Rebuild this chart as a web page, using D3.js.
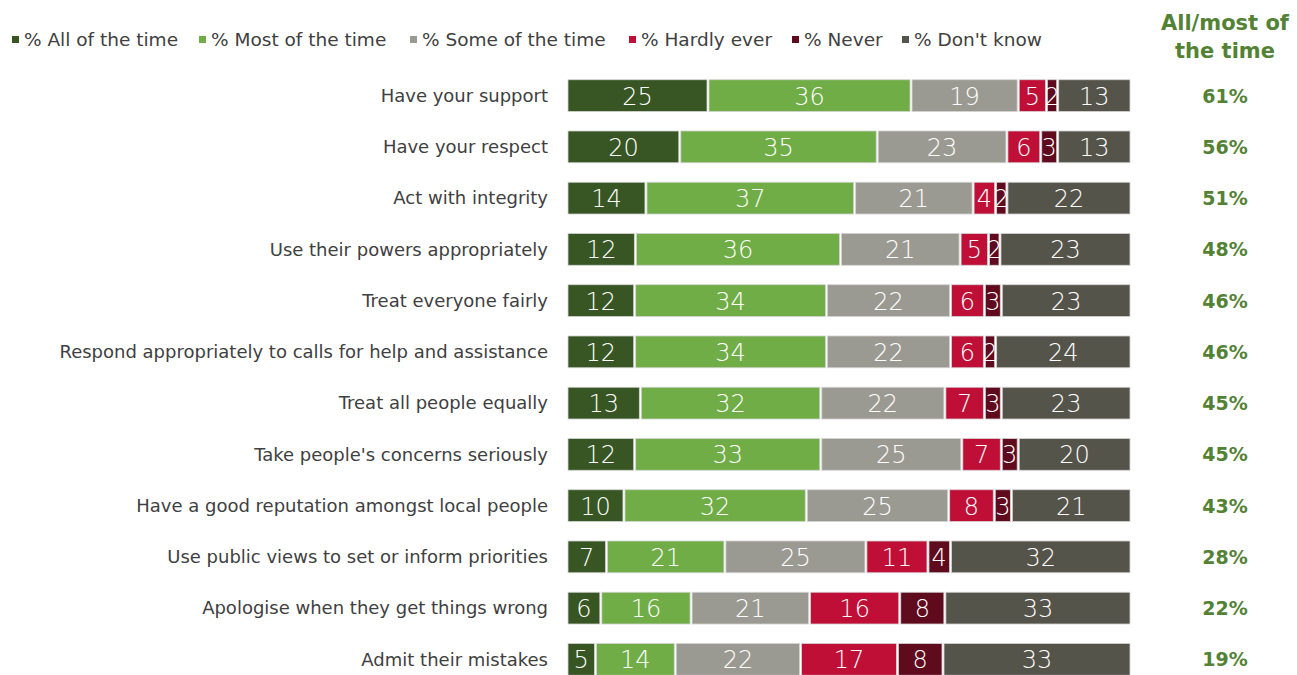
<!DOCTYPE html>
<html>
<head>
<meta charset="utf-8">
<script src="https://cdn.jsdelivr.net/npm/d3@7"></script>
<style>
  body { margin: 0; background: #fff; }
  svg { display: block; }
  text { font-family: "DejaVu Sans", sans-serif; }
</style>
</head>
<body>
<svg id="chart" width="1297" height="675"></svg>
<script>
const statements = [
  "Have your support",
  "Have your respect",
  "Act with integrity",
  "Use their powers appropriately",
  "Treat everyone fairly",
  "Respond appropriately to calls for help and assistance",
  "Treat all people equally",
  "Take people's concerns seriously",
  "Have a good reputation amongst local people",
  "Use public views to set or inform priorities",
  "Apologise when they get things wrong",
  "Admit their mistakes"
];
const seriesNames = ["% All of the time", "% Most of the time", "% Some of the time", "% Hardly ever", "% Never", "% Don't know"];
const allTime   = [25, 20, 14, 12, 12, 12, 13, 12, 10, 7, 6, 5];
const mostTime  = [36, 35, 37, 36, 34, 34, 32, 33, 32, 21, 16, 14];
const someTime  = [19, 23, 21, 21, 22, 22, 22, 25, 25, 25, 21, 22];
const hardly    = [5, 6, 4, 5, 6, 6, 7, 7, 8, 11, 16, 17];
const never     = [2, 3, 2, 2, 3, 2, 3, 3, 3, 4, 8, 8];
const dontKnow  = [13, 13, 22, 23, 23, 24, 23, 20, 21, 32, 33, 33];
const allMost   = ["61%", "56%", "51%", "48%", "46%", "46%", "45%", "45%", "43%", "28%", "22%", "19%"];
const colors = ["#375623", "#70ad47", "#9b9a92", "#c00f37", "#5f0a1d", "#55544b"];

const series = [allTime, mostTime, someTime, hardly, never, dontKnow];
const svg = d3.select("#chart");

// rounded values don't always add to 100, so bars are stretched to full width
const x = d3.scaleLinear().domain([0, 1]).range([567, 1131]);
const y = d3.scaleBand().domain(statements).range([70, 685]).paddingInner(0.38).paddingOuter(0.19);

const rows = statements.map((s, i) => {
  const r = { name: s };
  seriesNames.forEach((k, j) => r[k] = series[j][i]);
  return r;
});
const stacked = d3.stack().keys(seriesNames).offset(d3.stackOffsetExpand)(rows);

const layers = svg.append("g").selectAll("g")
  .data(stacked)
  .join("g")
  .attr("fill", (d, i) => colors[i]);

layers.selectAll("rect")
  .data(d => d)
  .join("rect")
  .attr("x", d => x(d[0]) + 1)
  .attr("y", d => y(d.data.name))
  .attr("width", d => Math.max(0, x(d[1]) - x(d[0]) - 2))
  .attr("height", y.bandwidth())
  .attr("stroke", "#d4d4d4")
  .attr("stroke-width", 0.8);

layers.selectAll("text")
  .data(d => d.map(p => Object.assign(p, { key: d.key })))
  .join("text")
  .attr("x", d => (x(d[0]) + x(d[1])) / 2)
  .attr("y", d => y(d.data.name) + y.bandwidth() / 2)
  .attr("dy", "0.37em")
  .attr("text-anchor", "middle")
  .attr("fill", "#fff")
  .attr("font-size", 24)
  .attr("font-weight", 300)
  .text(d => d.data[d.key]);

// category labels
svg.append("g").selectAll("text")
  .data(statements)
  .join("text")
  .attr("x", 548)
  .attr("y", d => y(d) + y.bandwidth() / 2)
  .attr("dy", "0.35em")
  .attr("text-anchor", "end")
  .attr("fill", "#404040")
  .attr("font-size", 18)
  .text(d => d);

// all/most column
svg.append("g").selectAll("text")
  .data(statements)
  .join("text")
  .attr("x", 1225)
  .attr("y", d => y(d) + y.bandwidth() / 2)
  .attr("dy", "0.37em")
  .attr("text-anchor", "middle")
  .attr("fill", "#548235")
  .attr("font-size", 19)
  .attr("font-weight", "bold")
  .text((d, i) => allMost[i]);

svg.append("text")
  .attr("x", 1225).attr("y", 30)
  .attr("text-anchor", "middle")
  .attr("fill", "#548235")
  .attr("font-size", 21)
  .attr("font-weight", "bold")
  .selectAll("tspan")
  .data(["All/most of", "the time"])
  .join("tspan")
  .attr("x", 1225)
  .attr("dy", (d, i) => i ? 28 : 0)
  .text(d => d);

// legend
const legendX = [12, 199, 410, 629, 792, 902];
const legend = svg.append("g").selectAll("g")
  .data(seriesNames)
  .join("g")
  .attr("transform", (d, i) => `translate(${legendX[i]},40)`);
legend.append("rect")
  .attr("x", 0).attr("y", -4)
  .attr("width", 7).attr("height", 7)
  .attr("fill", (d, i) => colors[i]);
legend.append("text")
  .attr("x", 12)
  .attr("dy", "0.35em")
  .attr("fill", "#404040")
  .attr("font-size", 18.5)
  .text(d => d);
</script>
</body>
</html>
